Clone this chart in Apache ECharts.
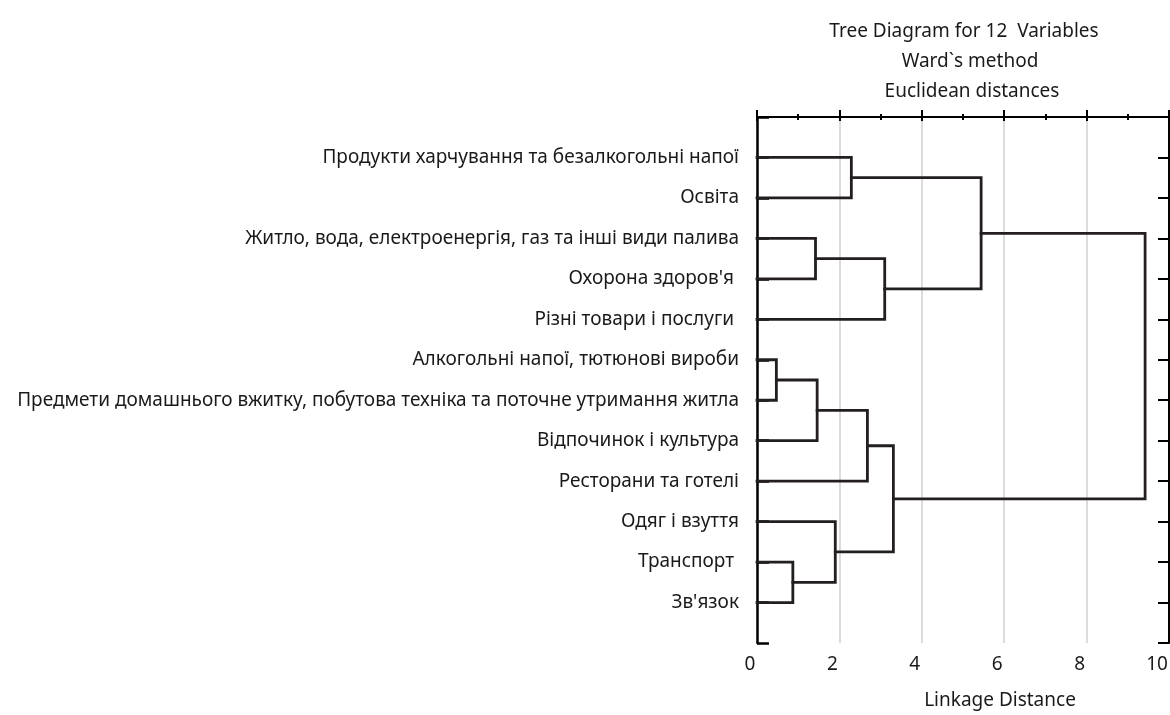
<!DOCTYPE html>
<html>
<head>
<meta charset="utf-8">
<script src="https://cdn.jsdelivr.net/npm/echarts@6/dist/echarts.min.js"></script>
<style>
  html, body { margin: 0; padding: 0; background: #fff; }
  #chart { width: 1170px; height: 715px; }
</style>
</head>
<body>
<div id="chart"></div>
<script>
// Leaf labels (top to bottom)
const leafLabels = [
  'Продукти харчування та безалкогольні напої',
  'Освіта',
  'Житло, вода, електроенергія, газ та інші види палива',
  "Охорона здоров'я ",
  'Різні товари і послуги ',
  'Алкогольні напої, тютюнові вироби',
  'Предмети домашнього вжитку, побутова техніка та поточне утримання житла',
  'Відпочинок і культура',
  'Ресторани та готелі',
  'Одяг і взуття',
  'Транспорт ',
  "Зв'язок"
];
// Merge steps: ids 0..11 are leaves, each merge creates id 12, 13, ...
const mergeLeft   = [0, 2, 13, 12, 5, 16, 17, 10, 9, 18, 15];
const mergeRight  = [1, 3, 4, 14, 6, 7, 8, 11, 19, 20, 21];
const mergeHeight = [2.29, 1.42, 3.10, 5.44, 0.47, 1.46, 2.68, 0.87, 1.90, 3.31, 9.42];
const xTicks = [0, 2, 4, 6, 8, 10];
const titleLines = ['Tree Diagram for 12  Variables', 'Ward`s method', 'Euclidean distances'];
const xAxisTitle = 'Linkage Distance';

const FONT = '"Noto Sans", sans-serif';
const TXT = '#1a1a1a';
const LINE = '#231f20';

// node positions: leaves at 1..12, height 0
const nodeY = leafLabels.map((_, i) => i + 1);
const nodeH = leafLabels.map(() => 0);
const series = [];
for (let k = 0; k < mergeLeft.length; k++) {
  const a = mergeLeft[k], b = mergeRight[k], h = mergeHeight[k];
  const ya = nodeY[a], yb = nodeY[b];
  series.push({
    type: 'line',
    data: [[nodeH[a], ya], [h, ya], [h, yb], [nodeH[b], yb]],
    symbol: 'none',
    silent: true,
    animation: false,
    lineStyle: { color: LINE, width: 2.8, join: 'miter', cap: 'square' },
    z: 5
  });
  nodeY.push((ya + yb) / 2);
  nodeH.push(h);
}

const titleCenters = [959, 965, 967];
const titles = titleLines.map((t, i) => ({
  text: t,
  left: titleCenters[i],
  top: 15 + i * 30,
  textAlign: 'center',
  textStyle: { fontFamily: FONT, fontSize: 19, fontWeight: 'normal', color: TXT, lineHeight: 24 }
}));

const chart = echarts.init(document.getElementById('chart'), null, { renderer: 'canvas' });
chart.setOption({
  backgroundColor: '#fff',
  animation: false,
  title: titles,
  grid: { left: 757, right: 1, top: 117, bottom: 72, containLabel: false, outerBoundsMode: 'none' },
  xAxis: [{
    type: 'value', min: 0, max: 10, interval: 2, position: 'bottom',
    name: xAxisTitle, nameLocation: 'middle', nameGap: 48,
    nameTextStyle: { fontFamily: FONT, fontSize: 19, color: TXT, padding: [0, 0, 0, 74] },
    axisLine: { show: true, lineStyle: { color: '#000', width: 2 } },
    axisTick: { show: true, inside: true, length: 7, lineStyle: { color: '#000', width: 2 } },
    minorTick: { show: true, splitNumber: 2, length: 3, lineStyle: { color: '#000', width: 2 } },
    axisLabel: { fontFamily: FONT, fontSize: 19, color: TXT, margin: 12, padding: [0, 14, 0, 0],
      formatter: v => v === 10 ? '{r|10}' : (xTicks.includes(v) ? String(v) : ''),
      rich: { r: { fontFamily: FONT, fontSize: 19, color: TXT, padding: [0, 10, 0, 0] } } },
    splitLine: { show: true, lineStyle: { color: '#dcdcdc', width: 2 } }
  }, {
    type: 'value', min: 0, max: 10, interval: 2, position: 'top',
    axisLine: { show: true, onZero: false, lineStyle: { color: '#000', width: 2 } },
    axisTick: { show: true, inside: true, length: 4, lineStyle: { color: '#000', width: 2 } },
    minorTick: { show: true, splitNumber: 2, length: 3, lineStyle: { color: '#000', width: 2 } },
    axisLabel: { show: false },
    splitLine: { show: false }
  }],
  yAxis: [{
    type: 'value', min: 0, max: 13, interval: 1, inverse: true, position: 'left',
    axisLine: { show: true, onZero: false, lineStyle: { color: '#000', width: 2.5 } },
    axisTick: { show: true, inside: true, length: 12, lineStyle: { color: '#000', width: 2.5 } },
    axisLabel: { fontFamily: FONT, fontSize: 19, color: TXT, margin: 18,
      formatter: v => (v >= 1 && v <= 12) ? leafLabels[v - 1] : '' },
    splitLine: { show: false }
  }, {
    type: 'value', min: 0, max: 13, interval: 1, inverse: true, position: 'right',
    axisLine: { show: true, onZero: false, lineStyle: { color: '#000', width: 2 } },
    axisTick: { show: true, inside: true, length: 11, lineStyle: { color: '#000', width: 2 } },
    axisLabel: { show: false },
    splitLine: { show: false }
  }],
  series: series
});
</script>
</body>
</html>
